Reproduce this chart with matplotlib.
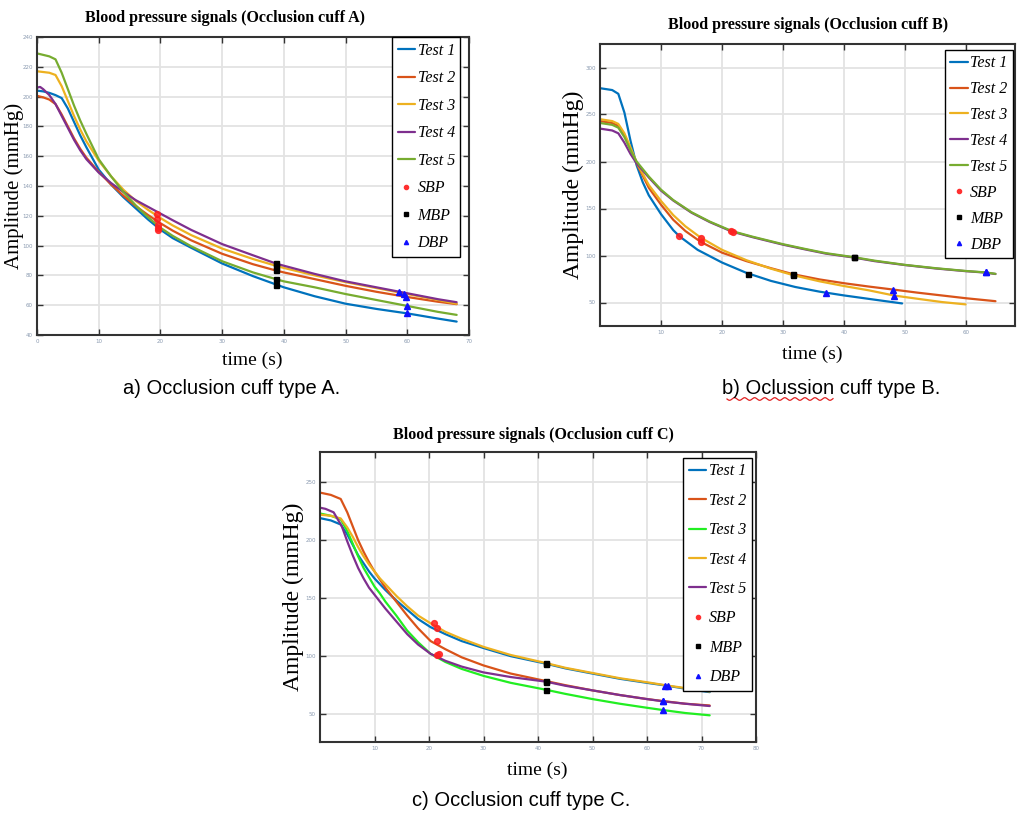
import numpy as np
import matplotlib
matplotlib.use("Agg")
import matplotlib.pyplot as plt
from matplotlib.lines import Line2D

# ---------------- DATA ----------------
tests = ["Test 1", "Test 2", "Test 3", "Test 4", "Test 5"]

# Panel A (cuff A)
A_t1_t = [0, 1, 2, 3, 4, 5, 6, 7, 8, 10, 12, 14, 16, 18, 20, 22, 25, 30, 35, 40, 45, 50, 55, 60, 65, 68]
A_t1_v = [204, 203.5, 202.5, 201, 199, 192, 183, 174, 166, 151, 141, 132.5, 125, 117.5, 110.7, 105, 98.5, 88, 79.5, 72, 66, 61, 57.5, 54.5, 51, 49]
A_t2_t = [0, 1, 2, 3, 4, 5, 6, 7, 8, 10, 12, 14, 16, 18, 20, 22, 25, 30, 35, 38.7, 40, 45, 50, 55, 60, 65, 68]
A_t2_v = [200.5, 199.5, 198, 195, 188, 180, 172, 165, 159, 149.5, 141, 133.5, 126.5, 120.5, 115, 110, 103.5, 94.5, 87.5, 83.3, 82, 77.5, 73, 69, 65.5, 62.3, 60.7]
A_t3_t = [0, 1, 2, 3, 4, 5, 6, 7, 8, 10, 12, 14, 16, 18, 20, 22, 25, 30, 35, 38.7, 40, 45, 50, 55, 60, 65, 68]
A_t3_v = [217, 216.5, 216, 214.5, 207, 197, 187, 178, 170, 157, 146.5, 137.5, 130, 124, 118.5, 113.5, 107, 98, 91, 86.5, 85, 80, 75.5, 71.5, 67.5, 63.5, 61]
A_t4_t = [0, 0.5, 1, 2, 3, 4, 5, 6, 7, 8, 10, 12, 14, 16, 18, 20, 22, 25, 30, 35, 38.7, 40, 45, 50, 55, 60, 65, 68]
A_t4_v = [206, 206.5, 205, 201, 195, 187, 179, 171, 164, 158, 149, 142, 136, 130.5, 126, 121.5, 117, 110.5, 101, 93.5, 88, 86.5, 81, 76, 72, 68, 64, 62]
A_t5_t = [0, 1, 2, 3, 4, 5, 6, 7, 8, 10, 12, 14, 16, 18, 20, 22, 25, 30, 35, 38.7, 40, 45, 50, 55, 60, 65, 68]
A_t5_v = [229, 228, 227, 225, 216, 205, 194, 184, 175, 158, 146.5, 136, 127, 119, 112, 106.5, 99.5, 89.5, 82, 77.5, 76, 72, 67.5, 63.5, 59.5, 55.5, 53.5]
A_sbp_t = [19.6, 19.6, 19.5, 19.4, 19.6]
A_sbp_v = [110.5, 114, 118, 121.5, 111.5]
A_mbp_t = [38.7, 38.7, 38.7, 38.7, 38.7]
A_mbp_v = [73.7, 83.3, 86.5, 88, 77.5]
A_dbp_t = [60, 59.8, 59.5, 58.6, 60]
A_dbp_v = [54.6, 65.7, 67.7, 68.6, 59.5]

# Panel B (cuff B)
B_t1_t = [0, 2, 3, 4, 5, 6, 7, 8, 10, 12, 13, 16, 20, 24, 28, 32, 36, 40, 45, 49.5]
B_t1_v = [278, 276, 272, 252, 222, 196, 178, 164, 144, 127, 120.5, 106, 92.5, 81.5, 73, 66.5, 61.5, 57.5, 53, 49]
B_t2_t = [0, 2, 3, 4, 5, 6, 8, 10, 12, 14, 16.5, 20, 24, 28, 31.7, 36, 40, 44, 48, 52, 56, 60, 64.8]
B_t2_v = [243, 241, 238, 228, 213, 198, 172, 154, 138, 126, 114.5, 103, 94, 86.5, 80, 74.5, 70.5, 67, 63.8, 60.5, 57.5, 54.5, 51.4]
B_t3_t = [0, 2, 3, 4, 5, 6, 8, 10, 12, 14, 16.5, 20, 24, 28, 31.7, 36, 40, 44, 48.2, 52, 56, 59.9]
B_t3_v = [245, 243, 240, 230, 215, 199, 175, 158, 143, 131, 119, 106, 95, 86, 79, 72.5, 67.5, 63, 57.4, 54, 50.5, 48]
B_t4_t = [0, 2, 3, 4, 5, 6, 8, 10, 12, 15, 18, 21.6, 25, 30, 33.6, 37, 41.6, 45, 50, 55, 60, 63.2, 64.8]
B_t4_v = [235, 233, 230, 220, 208, 198, 183, 169, 158.5, 145.5, 135.5, 125.5, 119.5, 111.5, 106.5, 102, 97.8, 94, 89.8, 86.2, 83.3, 81.8, 80.3]
B_t5_t = [0, 2, 3, 4, 5, 6, 8, 10, 12, 15, 18, 21.6, 25, 30, 33.6, 37, 41.6, 45, 50, 55, 60, 63.2, 64.8]
B_t5_v = [241, 239, 236, 226, 212, 200, 184, 170, 159, 146, 136, 126, 120, 112, 107, 102.5, 98.2, 94.5, 90, 86.5, 83.5, 82, 80.5]
B_sbp_t = [12.9, 16.5, 16.5, 21.4, 21.8]
B_sbp_v = [120.5, 114.5, 119, 126, 125.5]
B_mbp_t = [24.3, 31.7, 31.7, 41.6, 41.6]
B_mbp_v = [80.5, 80, 79, 98, 98.2]
B_dbp_t = [37, 48, 48.2, 63.2, 63.2]
B_dbp_v = [60.3, 63.8, 57.4, 82, 82.2]

# Panel C (cuff C)
C_t1_t = [0, 2, 3.8, 5, 6, 7, 8, 9, 10, 11, 12, 14, 16, 18, 20.3, 23, 26, 30, 35, 41.5, 45, 50, 55, 60, 64, 67, 71.5]
C_t1_v = [219, 217, 213.5, 205, 196, 187, 180, 173, 167, 162, 157, 148, 140, 132, 125, 119, 113, 107, 100, 93.5, 89.5, 85, 80.5, 77, 74.3, 72, 69]
C_t2_t = [0, 2, 3.8, 5, 6, 7, 8, 9, 10, 11, 12, 14, 16, 18, 20.3, 23, 26, 30, 35, 41.5, 45, 50, 55, 60, 63.5, 67, 71.5]
C_t2_v = [241, 239, 235.5, 224, 212, 200, 190, 181, 173, 166, 159, 147, 135, 124, 113, 106, 99, 92, 85, 78.5, 75, 70.5, 66.5, 63, 61, 59, 57.5]
C_t3_t = [0, 2, 3.8, 5, 6, 7, 8, 9, 10, 11, 12, 14, 16, 18, 20.3, 23, 26, 30, 35, 41.5, 45, 50, 55, 60, 63, 67, 71.5]
C_t3_v = [223, 221, 218, 208, 197, 186, 176, 168, 160, 154, 147, 135, 122, 112, 102, 95, 89, 83, 77, 71, 67.5, 63, 59, 55.5, 53.5, 51, 49]
C_t4_t = [0, 2, 3.8, 5, 6, 7, 8, 9, 10, 11, 12, 14, 16, 18, 20.3, 23, 26, 30, 35, 41.5, 45, 50, 55, 60, 64, 67, 71.5]
C_t4_v = [222, 221, 218.7, 211, 203, 194, 186, 179, 173, 167, 162, 152, 143, 135, 128.3, 121, 115, 108, 101, 94, 90, 85.5, 81, 77.5, 74.5, 72.5, 69.5]
C_t5_t = [0, 1, 2.5, 4, 5, 6, 7, 8, 9, 10, 11, 12, 14, 16, 18, 20.3, 23, 26, 30, 35, 41.5, 45, 50, 55, 60, 63, 67, 71.5]
C_t5_v = [228, 227, 224, 212, 199, 187, 176, 167, 159, 153, 147, 141, 130, 119, 110, 102, 96, 91, 86, 82, 78, 74.5, 70.5, 66.5, 63, 61, 59, 57]
C_sbp_t = [21.4, 21.4, 21.5, 20.9, 21.9]
C_sbp_v = [124, 113, 101, 128.3, 101.5]
C_mbp_t = [41.5, 41.5, 41.5, 41.5, 41.5]
C_mbp_v = [93.5, 78.5, 71, 94, 78]
C_dbp_t = [63.9, 62.9, 62.9, 63.3, 62.9]
C_dbp_v = [74.3, 61, 53.5, 74.5, 61]

A_xticks = [0, 10, 20, 30, 40, 50, 60, 70]
A_yticks = [40, 60, 80, 100, 120, 140, 160, 180, 200, 220, 240]
B_xticks = [10, 20, 30, 40, 50, 60]
B_yticks = [50, 100, 150, 200, 250, 300]
C_xticks = [10, 20, 30, 40, 50, 60, 70, 80]
C_yticks = [50, 100, 150, 200, 250]

titles = ["Blood pressure signals (Occlusion cuff A)",
          "Blood pressure signals (Occlusion cuff B)",
          "Blood pressure signals (Occlusion cuff C)"]
captions = ["a) Occlusion cuff type A.", "b) Oclussion cuff type B.", "c) Occlusion cuff type C."]

# ---------------- STYLE ----------------
W, H = 1021, 817
cols_AB = ["#0072BD", "#D95319", "#EDB120", "#7E2F8E", "#77AC30"]
cols_C = ["#0072BD", "#D95319", "#22EE22", "#EDB120", "#7E2F8E"]
serif = "Liberation Serif"
sans = "Liberation Sans"
tick_col = "#8a9ab0"

fig = plt.figure(figsize=(W / 100, H / 100), dpi=100)


def make_axes(l, r, t, b):
    return fig.add_axes([l / W, 1 - b / H, (r - l) / W, (b - t) / H])


def style(ax, xlim, ylim, xt, yt):
    ax.set_xlim(*xlim)
    ax.set_ylim(*ylim)
    ax.set_xticks(xt)
    ax.set_yticks(yt)
    ax.set_xticklabels([str(v) for v in xt])
    ax.set_yticklabels([str(v) for v in yt])
    ax.grid(True, color="#e3e3e3", linewidth=1.3)
    ax.set_axisbelow(True)
    ax.tick_params(direction="in", length=4, width=1.0, top=True, right=True,
                   labelsize=4, labelcolor=tick_col, color="#333333", pad=3)
    for s in ax.spines.values():
        s.set_color("#333333")
        s.set_linewidth(1.5)


def draw(ax, series, colors, sbp, mbp, dbp, legend_anchor, lspace):
    handles = []
    for (t, v), c, name in zip(series, colors, tests):
        ln, = ax.plot(t, v, color=c, lw=1.6, label=name, solid_capstyle="round")
        handles.append(ln)
    ax.plot(sbp[0], sbp[1], "o", color="#ff2020", ms=4.2, mec="#ff2020", alpha=0.85, ls="none")
    ax.plot(mbp[0], mbp[1], "s", color="black", ms=3.6, ls="none")
    ax.plot(dbp[0], dbp[1], "^", color="#1010ff", ms=4.2, ls="none")
    handles += [Line2D([], [], marker="o", color="#ff3030", ms=3, ls="none"),
                Line2D([], [], marker="s", color="black", ms=2.6, ls="none"),
                Line2D([], [], marker="^", color="#1010ff", ms=3, ls="none")]
    labels = tests + ["SBP", "MBP", "DBP"]
    leg = ax.legend(handles, labels, loc="upper right", bbox_to_anchor=legend_anchor,
                    prop={"family": serif, "style": "italic", "size": 11.5},
                    frameon=True, fancybox=False, framealpha=1, edgecolor="black",
                    handlelength=1.1, handletextpad=0.15, labelspacing=lspace,
                    borderpad=0.35, borderaxespad=0.0)
    leg.get_frame().set_linewidth(1.0)


# Panel A
axA = make_axes(37, 469, 37, 335)
style(axA, (0, 70), (40, 240), A_xticks, A_yticks)
draw(axA, [(A_t1_t, A_t1_v), (A_t2_t, A_t2_v), (A_t3_t, A_t3_v), (A_t4_t, A_t4_v), (A_t5_t, A_t5_v)],
     cols_AB, (A_sbp_t, A_sbp_v), (A_mbp_t, A_mbp_v), (A_dbp_t, A_dbp_v), (0.98, 1.0), 0.72)

# Panel B
axB = make_axes(600, 1015, 44, 326)
style(axB, (0, 68), (25, 325), B_xticks, B_yticks)
draw(axB, [(B_t1_t, B_t1_v), (B_t2_t, B_t2_v), (B_t3_t, B_t3_v), (B_t4_t, B_t4_v), (B_t5_t, B_t5_v)],
     cols_AB, (B_sbp_t, B_sbp_v), (B_mbp_t, B_mbp_v), (B_dbp_t, B_dbp_v), (0.995, 0.98), 0.62)

# Panel C
axC = make_axes(320, 756, 452, 742)
style(axC, (0, 80), (26, 276), C_xticks, C_yticks)
draw(axC, [(C_t1_t, C_t1_v), (C_t2_t, C_t2_v), (C_t3_t, C_t3_v), (C_t4_t, C_t4_v), (C_t5_t, C_t5_v)],
     cols_C, (C_sbp_t, C_sbp_v), (C_mbp_t, C_mbp_v), (C_dbp_t, C_dbp_v), (0.99, 0.98), 0.84)


def ftext(x, y, s, **kw):
    fig.text(x / W, 1 - y / H, s, ha="center", va="center", **kw)


# Titles
ftext(225, 18, titles[0], family=serif, weight="bold", size=11.5)
ftext(808, 25, titles[1], family=serif, weight="bold", size=11.5)
ftext(533, 435, titles[2], family=serif, weight="bold", size=11.5)

# Axis labels
ftext(14, 186, "Amplitude (mmHg)", family=serif, size=15, rotation=90)
ftext(573, 185, "Amplitude (mmHg)", family=serif, size=17, rotation=90)
ftext(293, 597, "Amplitude (mmHg)", family=serif, size=17, rotation=90)
ftext(252, 360, "time (s)", family=serif, size=14)
ftext(812, 354, "time (s)", family=serif, size=14)
ftext(537, 770, "time (s)", family=serif, size=14)

# Captions
ftext(232, 388, captions[0], family=sans, size=14.5)
ftext(831, 388, captions[1], family=sans, size=14.5)
ftext(521, 800, captions[2], family=sans, size=14.5)

# spell-check squiggle under "Oclussion"
sx = np.linspace(727, 833, 160)
sy = 399 + 1.3 * np.sin((sx - 727) / 1.6)
fig.add_artist(Line2D(sx / W, 1 - sy / H, color="#e02020", lw=0.9, transform=fig.transFigure))

fig.savefig("out.png", dpi=100, facecolor="white")
